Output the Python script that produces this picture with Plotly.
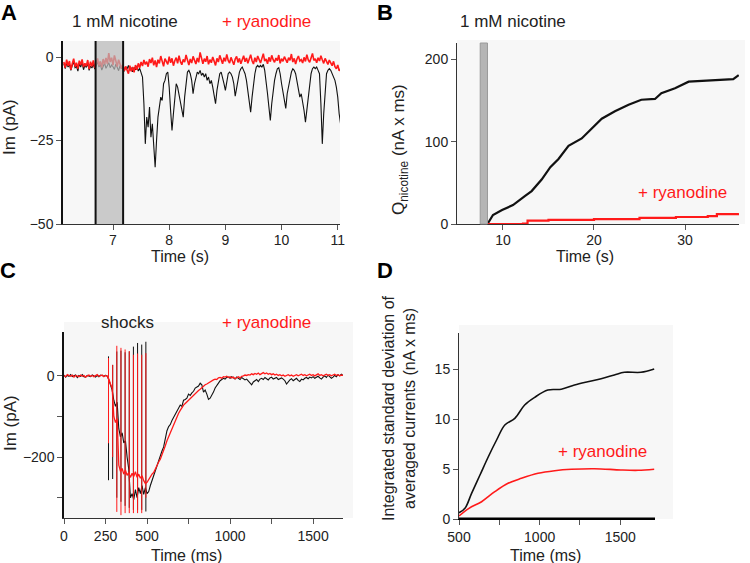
import numpy as np
import plotly.graph_objects as go

W, H = 750, 563
FONT = "Liberation Sans, Arial, sans-serif"


def px(x):
    return x / W


def py(y):
    return 1 - y / H


# ---------------- Panel A : whole-cell current, 1 mM nicotine ----------------
A_T0, A_DT = 6.125, 0.025
a_black = [
    -2, -3.5, -1.8, -3, -2.2, -4, -2.5, -1.5, -3.2, -2.8,
    -4.2, -2, -3, -1.6, -3.8, -2.4, -3.1, -1.9, -4, -2.7,
    -3.3, -2.1, -3.6, -2.5, -1.4, -3, -2.2, -3.9, -2.6, -1.8,
    -3.4, -2.3, -1.7, -3.2, -2.4, -2.9, -3.7, -2.1, -3.3, -4.1,
    -2.6, -3.5, -2.8, -4.3, -3, -3.6, -2.5, -4, -3.2, -4.4,
    -3.1, -3.8, -2.7, -4.2, -3.4, -4.6,
    -6, -14, -26, -18, -21, -15, -24, -20, -27, -33,
    -25, -18, -15, -12, -13, -8, -7, -5, -4.5, -9,
    -16, -22, -17, -12, -8, -9, -11, -14, -16, -18,
    -12, -7, -4.5, -4, -5, -7, -11, -8, -6, -4.5,
    -5, -4, -5.5, -4.8, -6, -5, -7, -6, -8, -7,
    -9, -11, -14, -10, -7, -5, -4.5, -6, -8, -10,
    -7, -5, -4.5, -5, -6, -8, -11.7, -9, -6, -4.5,
    -3.5, -3, -4, -5, -7, -10, -13, -16.5, -12, -8,
    -5, -3, -2.5, -3, -2.5, -3, -2.2, -4, -7, -11,
    -15, -19, -14, -10, -7, -5, -3.5, -3.2, -5, -8,
    -11, -13, -15.4, -11, -9, -6, -4.5, -3.5, -4, -5,
    -7, -9, -12, -11, -13, -16, -19.5, -16, -13, -9,
    -5, -3.5, -3, -3.5, -3, -4, -5, -14, -26, -17,
    -9, -5, -4, -3.5, -4, -5, -6, -7, -9, -12,
    -17, -20,
]
a_red = [
    -1.5, -3.2, -0.8, -2.6, -1.2, -3.8, -2.0, -0.5, -2.9, -1.7,
    -3.5, -1.1, -2.4, -0.7, -3.0, -1.9, -2.7, -0.9, -3.6, -1.4,
    -2.8, -1.0, -3.3, -1.6, -0.4, -2.5, -1.3, -3.1, -0.6, -2.2,
    -0.3, -2.0, 1.2, -1.5, -0.2, -2.4, 0.5, -1.1, -2.9, -0.8,
    -1.9, -3.4, -2.2, -4.1, -2.8, -3.7, -5.0, -2.6, -4.3, -3.0,
    -4.6, -2.4, -3.8, -1.9, -3.2, -1.5, -2.7, -0.9, -2.2, -1.4,
    -2.9, -0.6, -1.8, -0.2, -2.5, -1.0, -3.0, -0.8, -1.9, 0.3,
    -1.6, -2.8, -0.5, -1.3, -2.2, 0.1, -1.7, -0.4, -2.6, -1.1,
    -0.2, -1.9, 0.4, -1.4, -2.3, -0.7, -1.5, 0.6, -1.2, -2.4,
    -0.6, -1.8, 0.2, -1.0, -2.1, -0.3, -1.6, 1.4, -0.9, -2.0,
    -0.5, -1.4, 0.3, -2.2, -0.8, -1.7, 0.0, -1.2, -2.5, -0.4,
    -1.5, 0.5, -0.9, -2.0, -0.2, -1.3, 0.8, -1.0, -1.8, -0.1,
    -1.2, -2.3, -0.6, 0.2, -1.6, -0.4, -2.0, -0.8, 0.4, -1.4,
    -0.3, -1.9, -0.7, 0.7, -1.1, -2.1, -0.2, -1.5, 0.3, -0.9,
    -1.8, -0.4, 1.0, -1.2, -0.6, -2.0, -0.1, -1.4, 0.5, -0.8,
    -1.6, -0.3, -1.1, 0.6, -1.9, -0.5, -1.3, 0.1, -0.7, -1.7,
    -0.2, -1.0, 0.9, -1.5, -0.4, -2.1, -0.6, 0.3, -1.2, -0.8,
    -1.8, -0.1, -1.3, 0.7, -0.9, -1.6, -0.3, 1.1, -1.0, -0.5,
    -1.7, -0.2, -1.2, 0.4, -0.8, -1.9, -0.4, -1.4, -2.2, -0.9,
    -1.8, -2.6, -1.3, -2.9, -3.5, -2.4, -4.1, -3.6,
]
a_window = [6.69, 7.18]

# ---------------- Panel B : integrated charge ----------------
b_black_t = [8.3, 8.9, 9.9, 11.1, 12.4, 13.15, 14.25, 15.2, 16.1, 17.2, 18.65,
             19.75, 20.85, 22.3, 23.8, 25.2, 26.7, 27.4, 28.9, 30.4, 32.5, 35.3, 35.9]
b_black_q = [0, 11, 17, 23, 34, 40, 54, 69, 79, 95, 104,
             116, 128, 137, 145, 151, 152, 159, 165, 173, 174, 176, 181]
b_red_t = [8.3, 12.2, 12.7, 15, 20, 25, 29, 32.5, 33.5, 35.9]
b_red_q = [0, 0.5, 4, 5, 6, 7.5, 8.5, 9.5, 12, 13]
b_window = [7.5, 8.3]

# ---------------- Panel C : shock-evoked currents ----------------
C_DT = 10
c_black = [
    2, -3, 1, -1, 3, -2, 0, 2, -4, 1, -1, 3, -2, -3, 1, 0, -2, 2, -1, -3, 1, -2, 2, 0, -1, 1, 0,
    -10, -25, -35, -60, -75, -65, -130, -150, -140, -165, -160, -200, -230,
    -300, -290, -305, -280, -300, -275, -290, -270, -292, -275,
    -290, -285, -270, -258, -245, -230, -222, -205, -195, -185,
    -175, -150, -135, -125, -120, -110, -103, -95, -88, -80,
    -72, -75, -60, -58, -55, -45, -48, -42, -38, -30,
    -28, -25, -18, -22, -40, -35, -45, -58, -55, -48,
    -40, -30, -25, -18, -12, -10, -6, -8, -4, -3,
    -6, -2, -5, -8, -3, -6, -9, -4, -7, -10,
    -8, -12, -18, -22, -15, -12, -9, -14, -8, -6,
    -9, -4, -7, -10, -5, -3, -8, -6, -4, -9,
    -7, -5, -8, -12, -20, -14, -10, -7, -12, -9,
    -6, -11, -14, -8, -10, -6, -4, -7, -3, -5,
    -2, -6, -4, -1, -5, -8, -3, 0, -4, 2,
    -2, -6, -3, 1, -2, 3, 0, 4, 1,
]
c_red = [
    1, -2, 3, 0, -1, 2, -3, 1, 0, -2, 2, -1, 1, -3, 0, 2, -1, 1, -2, 0, 3, -1, 0, 2, -2, 1, -1,
    -8, -20, -30, -100, -115, -105, -220, -235, -228, -242, -232, -245, -238,
    -250, -240, -248, -236, -250, -242, -252, -246, -258, -265,
    -262, -255, -250, -242, -238, -228, -220, -212, -205, -195,
    -185, -172, -160, -150, -140, -128, -118, -108, -100, -92,
    -85, -78, -72, -68, -64, -58, -55, -50, -46, -42,
    -40, -36, -33, -29, -26, -22, -20, -17, -15, -12,
    -10, -8, -9, -5, -4, -6, -2, -3, -1, -4,
    -2, -5, -3, -7, -4, -2, -5, -1, 0, 2,
    1, 3, 2, 5, 3, 6, 4, 7, 3, 6,
    8, 5, 7, 4, 6, 3, 5, 2, 4, 1,
    3, 0, 2, -1, 1, 3, 0, 2, -1, 1,
    3, 0, 2, 4, 1, 3, 0, 2, 4, 1,
    3, 0, 2, 5, 1, 3, 0, 2, 4, 1,
    3, 0, 2, 4, 1, 3, 0, 2, 1,
]
c_shock_t = [268, 293, 318, 343, 368, 393, 418, 443, 468, 493]
c_black_top = [48, 27, 60, 62, 58, 60, 72, 81, 77, 84]
c_black_bot = [-257, -254, -300, -310, -320, -325, -330, -330, -330, -334]
c_red_top = [44, 27, 74, 69, 65, 61, 52, 55, 52, 56]
c_red_bot = [-166, -200, -335, -343, -338, -338, -338, -338, -338, -300]

# ---------------- Panel D : integrated SD ----------------
d_black_t = [500, 537, 578, 630, 681, 733, 784, 846, 907, 969, 1051,
             1134, 1216, 1298, 1381, 1463, 1525, 1628, 1710]
d_black_v = [0.63, 1.07, 2.57, 4.4, 6.2, 7.9, 9.4, 10.07, 11.4, 12.17, 12.9,
             12.97, 13.4, 13.73, 14.03, 14.4, 14.67, 14.67, 15.0]
d_red_t = [500, 562, 640, 722, 804, 887, 990, 1093, 1196, 1340, 1504, 1610, 1710]
d_red_v = [0.3, 1.07, 1.73, 2.73, 3.57, 4.07, 4.57, 4.83, 4.97, 5.03, 4.9, 4.87, 4.97]

BLACK = "#111111"
RED = "#ff1a1a"

fig = go.Figure()

ta = A_T0 + A_DT * np.arange(len(a_black))
tr = A_T0 + A_DT * np.arange(len(a_red))
fig.add_trace(go.Scatter(x=ta, y=a_black, mode="lines", line=dict(color=BLACK, width=1.1),
                         xaxis="x", yaxis="y", showlegend=False))
fig.add_trace(go.Scatter(x=tr, y=a_red, mode="lines", line=dict(color=RED, width=1.6),
                         xaxis="x", yaxis="y", showlegend=False))

fig.add_trace(go.Scatter(x=b_black_t, y=b_black_q, mode="lines", line=dict(color=BLACK, width=2.2),
                         xaxis="x2", yaxis="y2", showlegend=False))
fig.add_trace(go.Scatter(x=b_red_t, y=b_red_q, mode="lines", line=dict(color=RED, width=2.2, shape="hv"),
                         xaxis="x2", yaxis="y2", showlegend=False))


def spikes(ts, tops, bots):
    xs, ys = [], []
    for t, a, b in zip(ts, tops, bots):
        xs += [t, t, None]
        ys += [a, b, None]
    return xs, ys


tcb = C_DT * np.arange(len(c_black))
tcr = C_DT * np.arange(len(c_red))
sx, sy = spikes(c_shock_t, c_black_top, c_black_bot)
fig.add_trace(go.Scatter(x=sx, y=sy, mode="lines", line=dict(color=BLACK, width=1),
                         xaxis="x3", yaxis="y3", showlegend=False))
fig.add_trace(go.Scatter(x=tcb, y=c_black, mode="lines", line=dict(color=BLACK, width=1.1),
                         xaxis="x3", yaxis="y3", showlegend=False))
fig.add_trace(go.Scatter(x=tcr, y=c_red, mode="lines", line=dict(color=RED, width=1.3),
                         xaxis="x3", yaxis="y3", showlegend=False))
sx, sy = spikes(c_shock_t, c_red_top, c_red_bot)
fig.add_trace(go.Scatter(x=sx, y=sy, mode="lines", line=dict(color=RED, width=1),
                         xaxis="x3", yaxis="y3", showlegend=False))

fig.add_trace(go.Scatter(x=d_black_t, y=d_black_v, mode="lines", line=dict(color=BLACK, width=1.6, shape="spline"),
                         xaxis="x4", yaxis="y4", showlegend=False))
fig.add_trace(go.Scatter(x=d_red_t, y=d_red_v, mode="lines", line=dict(color=RED, width=1.6, shape="spline"),
                         xaxis="x4", yaxis="y4", showlegend=False))

tickfont = dict(family=FONT, size=14, color="#222")
common = dict(showgrid=False, zeroline=False, showline=True, linecolor="#333", linewidth=1,
              ticks="outside", ticklen=5, tickcolor="#555", tickfont=tickfont, automargin=False)
minor_ticks = dict(ticks="outside", ticklen=5, tickcolor="#555", showgrid=False)

shapes = []
# plot backgrounds
for (x0, y0, x1, y1) in [(63, 41, 340, 224), (457, 40, 745, 224), (64, 322, 353, 518), (459, 325, 673, 519)]:
    shapes.append(dict(type="rect", xref="paper", yref="paper", x0=px(x0), x1=px(x1), y0=py(y1), y1=py(y0),
                       fillcolor="#f7f7f7", line=dict(width=0), layer="below"))
# nicotine window A
shapes.append(dict(type="rect", xref="x", yref="paper", x0=a_window[0], x1=a_window[1], y0=py(224), y1=py(41),
                   fillcolor="rgba(185,185,185,0.72)", line=dict(width=0), layer="above"))
for xw in a_window:
    shapes.append(dict(type="line", xref="x", yref="paper", x0=xw, x1=xw, y0=py(224), y1=py(41),
                       line=dict(color="#111", width=2), layer="above"))
# nicotine window B
shapes.append(dict(type="rect", xref="x2", yref="paper", x0=b_window[0], x1=b_window[1], y0=py(224), y1=py(43),
                   fillcolor="#b5b5b5", line=dict(color="#9a9a9a", width=1), layer="above"))
# thick zero line along the bottom of panel D
shapes.append(dict(type="line", xref="x4 domain", yref="y4", x0=0, x1=1, y0=0, y1=0,
                   line=dict(color="#000", width=3), layer="above"))

ann = []


def text(x, y, s, size=17, color="#222", bold=False, angle=0, xanchor="center"):
    ann.append(dict(x=px(x), y=py(y), xref="paper", yref="paper", text=("<b>%s</b>" % s) if bold else s,
                    showarrow=False, xanchor=xanchor, yanchor="middle", textangle=angle,
                    font=dict(family=FONT, size=size, color=color)))


text(9, 12, "A", size=22, color="#000", bold=True)
text(385, 12, "B", size=22, color="#000", bold=True)
text(8, 270, "C", size=22, color="#000", bold=True)
text(385, 270, "D", size=22, color="#000", bold=True)
text(125, 21, "1 mM nicotine")
text(266, 21, "+ ryanodine", color=RED)
text(513, 21, "1 mM nicotine")
text(682, 192, "+ ryanodine", color=RED)
text(127, 322, "shocks")
text(266, 322, "+ ryanodine", color=RED)
text(602, 451, "+ ryanodine", color=RED)
text(10, 127, "Im (pA)", size=17, angle=-90)
text(10, 423, "Im (pA)", size=17, angle=-90)
text(400, 150, "Q<sub>nicotine</sub> (nA x ms)", size=17, angle=-90)
text(399, 408, "Integrated standard deviation of<br>averaged currents (nA x ms)", size=16, angle=-90)
text(180, 256, "Time (s)", size=16)
text(585, 256, "Time (s)", size=16)
text(186, 555, "Time (ms)", size=16)
text(545, 555, "Time (ms)", size=16)

xtop = dict(ticklabelstandoff=-2)

fig.update_layout(
    width=W, height=H, margin=dict(l=0, r=0, t=0, b=0, pad=0, autoexpand=False),
    paper_bgcolor="white", plot_bgcolor="rgba(0,0,0,0)",
    font=dict(family=FONT),
    shapes=shapes, annotations=ann,
    xaxis=dict(domain=[px(63), px(340)], range=[6.11, 11.04], anchor="y",
               tickvals=[7, 8, 9, 10, 11], **xtop, **common),
    yaxis=dict(domain=[py(224), py(41)], range=[-50, 4.8], anchor="x",
               tickvals=[0, -25, -50], **{**common, "linecolor": "#111", "linewidth": 1.5}),
    xaxis2=dict(domain=[px(457), px(739)], range=[4.95, 35.93], anchor="y2",
                tickvals=[10, 20, 30], **xtop, **common),
    yaxis2=dict(domain=[py(224), py(43)], range=[0, 220], anchor="x2",
                tickvals=[0, 100, 200], **common),
    xaxis3=dict(domain=[px(64), px(343)], range=[0, 1680], anchor="y3",
                tickvals=[0, 250, 500, 1000, 1500],
                minor=dict(tickvals=[750, 1250], **minor_ticks), **common),
    yaxis3=dict(domain=[py(518), py(332)], range=[-350, 108], anchor="x3",
                tickvals=[0, -200], minor=dict(tickvals=[-100, -300], **minor_ticks),
                **{**common, "linecolor": "#111", "linewidth": 1.5}),
    xaxis4=dict(domain=[px(459), px(655)], range=[500, 1715], anchor="y4",
                tickvals=[500, 1000, 1500], minor=dict(tickvals=[750, 1250], **minor_ticks),
                **{**common, "linecolor": "#000"}),
    yaxis4=dict(domain=[py(519), py(333)], range=[0, 18.6], anchor="x4",
                tickvals=[0, 5, 10, 15], **common),
)

# remove the browser's default 8 px body margin so the figure sits at the page origin
fig.write_html("out.html", config={"displayModeBar": False},
               post_script="document.body.style.margin='0';document.body.style.overflow='hidden';")
